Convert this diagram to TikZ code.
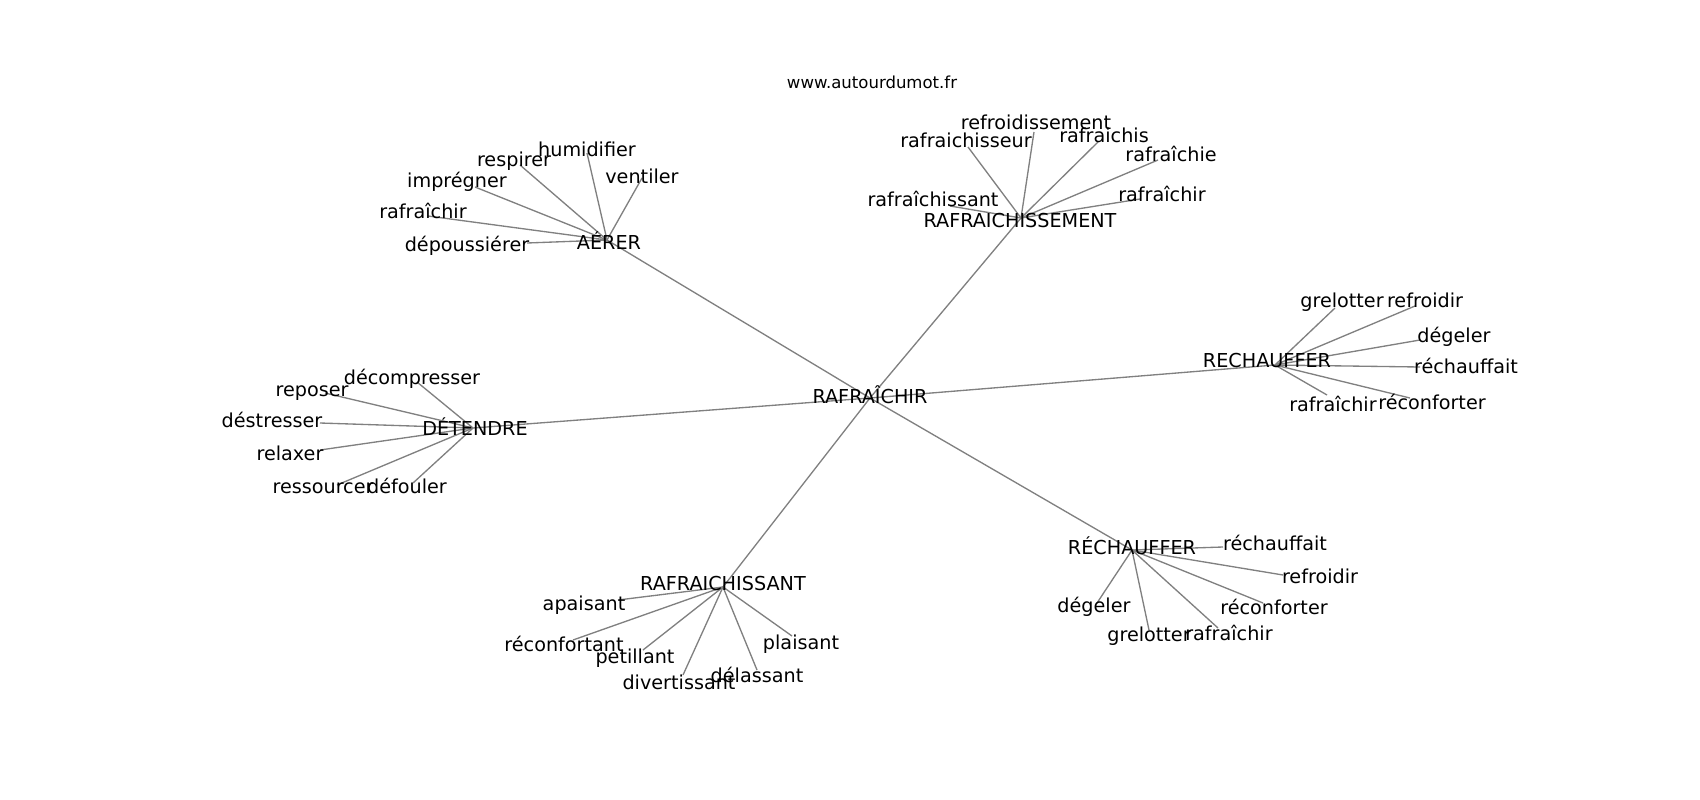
\documentclass[tikz,border=0pt]{standalone}
\usepackage{fontspec}
\setmainfont{DejaVu Sans}
\usepackage{tikz}
\usetikzlibrary{positioning}
\tikzstyle{hubword}=[black, inner sep=0pt, anchor=base, font=\fontsize{14.4}{16}\selectfont]
\tikzstyle{leafword}=[black, inner sep=0pt, anchor=base, font=\fontsize{14.4}{16}\selectfont]
\tikzstyle{titleword}=[black, inner sep=0pt, anchor=base, font=\fontsize{12.4}{14}\selectfont]
\tikzstyle{wordedge}=[line width=1pt, color=black!50]

\begin{document}
\begin{tikzpicture}[x=0.75pt, y=-0.75pt]
\useasboundingbox (0,0) rectangle (1700,800);

% vertices
\coordinate (rafraichir) at (870,398);
\coordinate (aerer) at (607,240);
\coordinate (aerdepous) at (527,243);
\coordinate (aerrafr) at (428,216);
\coordinate (aerimpreg) at (475,187);
\coordinate (aerrespir) at (520,165);
\coordinate (aerhumid) at (587,153);
\coordinate (aerventil) at (642,178);
\coordinate (rafsement) at (1021,218);
\coordinate (semrefroid) at (1034,132);
\coordinate (semrafseur) at (968,147);
\coordinate (semrafchis) at (1098,142);
\coordinate (semrafchie) at (1158,160);
\coordinate (semrafchir) at (1140,199);
\coordinate (semrafsant) at (950,206);
\coordinate (rechauf) at (1275,365);
\coordinate (recgrelot) at (1335,308);
\coordinate (recrefroid) at (1415,306);
\coordinate (recdegel) at (1420,340);
\coordinate (recrechauf) at (1420,367);
\coordinate (recreconf) at (1410,398);
\coordinate (recrafr) at (1327,395);
\coordinate (detendre) at (473,428);
\coordinate (detdecomp) at (417,382);
\coordinate (detrepos) at (325,393);
\coordinate (detdestr) at (320,423);
\coordinate (detrelax) at (320,450);
\coordinate (detressour) at (337,485);
\coordinate (detdefoul) at (413,483);
\coordinate (rafsant) at (723,587);
\coordinate (santapais) at (618,600);
\coordinate (santreconf) at (573,640);
\coordinate (santpetil) at (643,650);
\coordinate (santdivert) at (683,675);
\coordinate (santdelas) at (757,670);
\coordinate (santplais) at (792,636);
\coordinate (rechaufacc) at (1132,550);
\coordinate (accrechauf) at (1223,547);
\coordinate (accrefroid) at (1283,575);
\coordinate (accreconf) at (1263,603);
\coordinate (accrafr) at (1218,628);
\coordinate (accgrelot) at (1149,630);
\coordinate (accdegel) at (1097,603);

% edges
\draw[wordedge] (rafraichir) -- (aerer);
\draw[wordedge] (rafraichir) -- (rafsement);
\draw[wordedge] (rafraichir) -- (rechauf);
\draw[wordedge] (rafraichir) -- (detendre);
\draw[wordedge] (rafraichir) -- (rafsant);
\draw[wordedge] (rafraichir) -- (rechaufacc);
\draw[wordedge] (aerer) -- (aerdepous);
\draw[wordedge] (aerer) -- (aerrafr);
\draw[wordedge] (aerer) -- (aerimpreg);
\draw[wordedge] (aerer) -- (aerrespir);
\draw[wordedge] (aerer) -- (aerhumid);
\draw[wordedge] (aerer) -- (aerventil);
\draw[wordedge] (rafsement) -- (semrefroid);
\draw[wordedge] (rafsement) -- (semrafseur);
\draw[wordedge] (rafsement) -- (semrafchis);
\draw[wordedge] (rafsement) -- (semrafchie);
\draw[wordedge] (rafsement) -- (semrafchir);
\draw[wordedge] (rafsement) -- (semrafsant);
\draw[wordedge] (rechauf) -- (recgrelot);
\draw[wordedge] (rechauf) -- (recrefroid);
\draw[wordedge] (rechauf) -- (recdegel);
\draw[wordedge] (rechauf) -- (recrechauf);
\draw[wordedge] (rechauf) -- (recreconf);
\draw[wordedge] (rechauf) -- (recrafr);
\draw[wordedge] (detendre) -- (detdecomp);
\draw[wordedge] (detendre) -- (detrepos);
\draw[wordedge] (detendre) -- (detdestr);
\draw[wordedge] (detendre) -- (detrelax);
\draw[wordedge] (detendre) -- (detressour);
\draw[wordedge] (detendre) -- (detdefoul);
\draw[wordedge] (rafsant) -- (santapais);
\draw[wordedge] (rafsant) -- (santreconf);
\draw[wordedge] (rafsant) -- (santpetil);
\draw[wordedge] (rafsant) -- (santdivert);
\draw[wordedge] (rafsant) -- (santdelas);
\draw[wordedge] (rafsant) -- (santplais);
\draw[wordedge] (rechaufacc) -- (accrechauf);
\draw[wordedge] (rechaufacc) -- (accrefroid);
\draw[wordedge] (rechaufacc) -- (accreconf);
\draw[wordedge] (rechaufacc) -- (accrafr);
\draw[wordedge] (rechaufacc) -- (accgrelot);
\draw[wordedge] (rechaufacc) -- (accdegel);

% labels
\node [titleword] (title) at (872,88) {www.autourdumot.fr};
\node [hubword] (rafraichirlbl) at (870,403) {RAFRAÎCHIR};
\node [hubword] (aererlbl) at (609,249) {AÉRER};
\node [leafword] (aerdepouslbl) at (467,251) {dépoussiérer};
\node [leafword] (aerrafrlbl) at (423,218) {rafraîchir};
\node [leafword] (aerimpreglbl) at (457,187) {imprégner};
\node [leafword] (aerrespirlbl) at (514,166) {respirer};
\node [leafword] (aerhumidlbl) at (587,156) {humidifier};
\node [leafword] (aerventillbl) at (642,183) {ventiler};
\node [hubword] (rafsementlbl) at (1020,227) {RAFRAICHISSEMENT};
\node [leafword] (semrefroidlbl) at (1036,129) {refroidissement};
\node [leafword] (semrafseurlbl) at (966,147) {rafraichisseur};
\node [leafword] (semrafchislbl) at (1104,142) {rafraichis};
\node [leafword] (semrafchielbl) at (1171,161) {rafraîchie};
\node [leafword] (semrafchirlbl) at (1162,201) {rafraîchir};
\node [leafword] (semrafsantlbl) at (933,206) {rafraîchissant};
\node [hubword] (rechauflbl) at (1267,367) {RECHAUFFER};
\node [leafword] (recgrelotlbl) at (1342,307) {grelotter};
\node [leafword] (recrefroidlbl) at (1425,307) {refroidir};
\node [leafword] (recdegellbl) at (1454,342) {dégeler};
\node [leafword] (recrechauflbl) at (1466,373) {réchauffait};
\node [leafword] (recreconflbl) at (1432,409) {réconforter};
\node [leafword] (recrafrlbl) at (1333,411) {rafraîchir};
\node [hubword] (detendrelbl) at (475,435) {DÉTENDRE};
\node [leafword] (detdecomplbl) at (412,384) {décompresser};
\node [leafword] (detreposlbl) at (312,396) {reposer};
\node [leafword] (detdestrlbl) at (272,427) {déstresser};
\node [leafword] (detrelaxlbl) at (290,460) {relaxer};
\node [leafword] (detressourlbl) at (323,493) {ressourcer};
\node [leafword] (detdefoullbl) at (407,493) {défouler};
\node [hubword] (rafsantlbl) at (723,590) {RAFRAICHISSANT};
\node [leafword] (santapaislbl) at (584,610) {apaisant};
\node [leafword] (santreconflbl) at (564,651) {réconfortant};
\node [leafword] (santpetillbl) at (635,663) {petillant};
\node [leafword] (santdivertlbl) at (679,689) {divertissant};
\node [leafword] (santdelaslbl) at (757,682) {délassant};
\node [leafword] (santplaislbl) at (801,649) {plaisant};
\node [hubword] (rechaufacclbl) at (1132,554) {RÉCHAUFFER};
\node [leafword] (accrechauflbl) at (1275,550) {réchauffait};
\node [leafword] (accrefroidlbl) at (1320,583) {refroidir};
\node [leafword] (accreconflbl) at (1274,614) {réconforter};
\node [leafword] (accrafrlbl) at (1229,640) {rafraîchir};
\node [leafword] (accgrelotlbl) at (1149,641) {grelotter};
\node [leafword] (accdegellbl) at (1094,612) {dégeler};
\end{tikzpicture}
\end{document}
